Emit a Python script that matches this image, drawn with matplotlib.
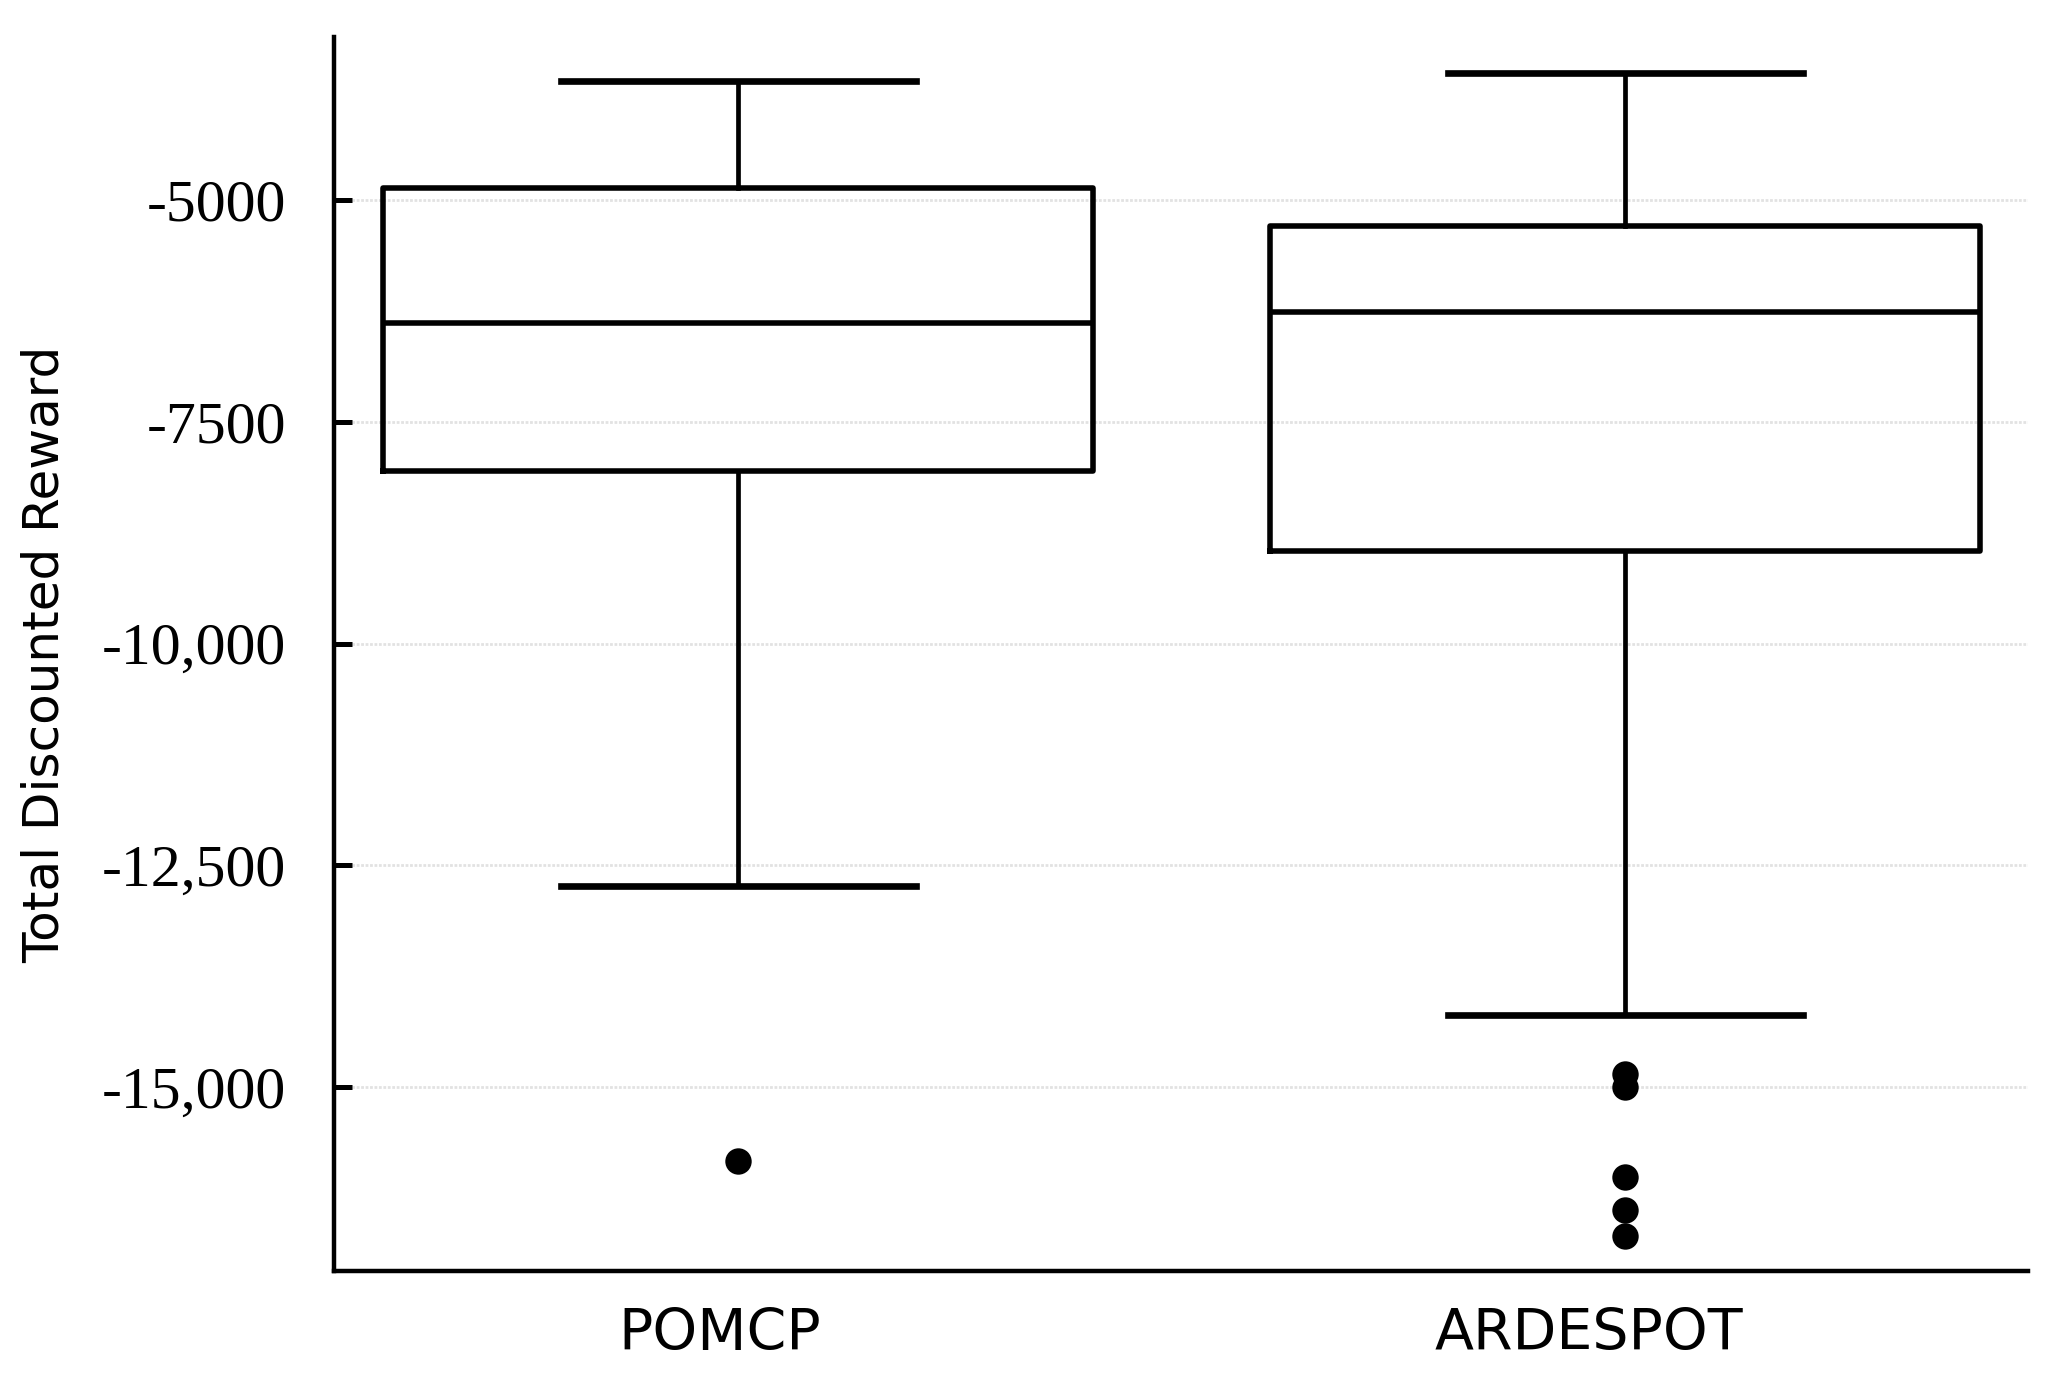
import matplotlib.pyplot as plt
import matplotlib.transforms as mtransforms
from matplotlib.ticker import FixedLocator

# Box plot summary
methods = ['POMCP', 'ARDESPOT']
whisker_hi = [-3661, -3571]
q3 = [-4870, -5298]
medians = [-6390, -6265]
q1 = [-8060, -8958]
whisker_lo = [-12730, -14182]
outliers = [[-15833], [-14851, -14990, -16012, -16384, -16673]]

yticks = [-5000, -7500, -10000, -12500, -15000]
ytick_labels = ['-5000', '-7500', '-10,000', '-12,500', '-15,000']

stats = []
for i, name in enumerate(methods):
    stats.append({'label': name, 'med': medians[i], 'q1': q1[i], 'q3': q3[i],
                  'whislo': whisker_lo[i], 'whishi': whisker_hi[i],
                  'fliers': outliers[i]})

fig = plt.figure(figsize=(10.36, 6.92), dpi=200)
ax = fig.add_axes([0.161, 0.0816, 0.818, 0.8916])

ax.bxp(stats, positions=[0, 1], widths=0.8, capwidths=0.4,
       boxprops=dict(color='black', linewidth=2.0),
       medianprops=dict(color='black', linewidth=2.0),
       whiskerprops=dict(color='black', linewidth=1.7),
       capprops=dict(color='black', linewidth=2.4),
       flierprops=dict(marker='o', markerfacecolor='black', markeredgecolor='black',
                       markersize=8.5, linestyle='none'))

ax.set_xlim(-0.456, 1.4545)
ax.set_ylim(-17068, -3170)

ax.yaxis.set_major_locator(FixedLocator(yticks))
ax.set_yticklabels(ytick_labels, fontfamily='Liberation Serif', fontsize=21.5)
ax.tick_params(axis='y', direction='in', length=6.5, width=1.8, pad=17)
ax.tick_params(axis='x', length=0, pad=13, labelsize=20.5)
ax.grid(axis='y', color='#e2e2e2', linewidth=1.0, linestyle=(0, (1, 0.6)))
ax.set_axisbelow(True)

# the category labels sit a little left of the boxes in the original
for lbl, shift in zip(ax.get_xticklabels(), [-6.5, -13]):
    lbl.set_transform(lbl.get_transform() +
                      mtransforms.ScaledTranslation(shift / 72, 0, fig.dpi_scale_trans))

for side in ['top', 'right']:
    ax.spines[side].set_visible(False)
for side in ['left', 'bottom']:
    ax.spines[side].set_linewidth(1.6)

ax.set_ylabel('Total Discounted Reward', fontsize=18, labelpad=12)

fig.savefig('out.png', dpi=200)
